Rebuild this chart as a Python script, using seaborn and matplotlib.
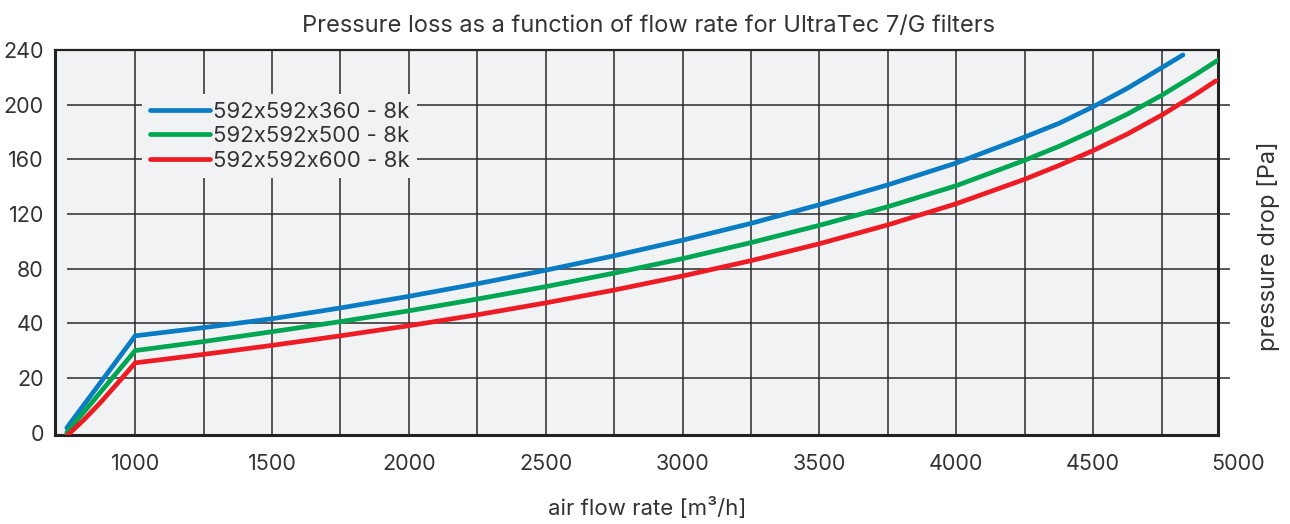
import numpy as np
import pandas as pd
import matplotlib
matplotlib.use("Agg")
import matplotlib.pyplot as plt
import seaborn as sns

# --- data ---
series_names = ["592x592x360 - 8k", "592x592x500 - 8k", "592x592x600 - 8k"]
series_colors = ["#0a7cc4", "#00a651", "#ed1c24"]

flow_360 = [750, 1000, 1250, 1500, 1750, 2000, 2250, 2500, 2750, 3000,
            3250, 3500, 3750, 4000, 4250, 4375, 4500, 4625, 4750, 4828]
drop_360 = [1.7, 35.4, 38.4, 43.3, 51.2, 59.7, 68.9, 78.8, 89.4, 100.8,
            113.1, 126.8, 141.3, 157.3, 176.3, 186.3, 198.5, 212.0, 227.0, 236.4]

flow_500 = [750, 1000, 1250, 1500, 1750, 2000, 2250, 2500, 2750, 3000,
            3250, 3500, 3750, 4000, 4250, 4375, 4500, 4625, 4750, 4875, 4963]
drop_500 = [0.0, 30.0, 33.3, 36.9, 41.2, 49.1, 57.7, 66.8, 76.7, 87.3,
            99.0, 111.7, 125.3, 140.7, 159.3, 169.5, 180.9, 193.1, 206.8, 222.1, 233.5]

flow_600 = [750, 812, 875, 937, 1000, 1250, 1500, 1750, 2000, 2250, 2500,
            2750, 3000, 3250, 3500, 3750, 4000, 4250, 4375, 4500, 4625, 4750,
            4875, 4948]
drop_600 = [-1.2, 4.6, 11.2, 18.2, 25.5, 28.6, 31.9, 35.4, 39.1, 46.2, 54.9,
            64.3, 74.6, 85.8, 98.2, 112.0, 127.5, 145.4, 155.5, 166.4, 178.5, 192.3,
            207.7, 217.4]

y_ticks = [0, 20, 40, 80, 120, 160, 200, 240]
x_ticks = [1000, 1500, 2000, 2500, 3000, 3500, 4000, 4500, 5000]
x_grid = [1000, 1250, 1500, 1750, 2000, 2250, 2500, 2750, 3000, 3250,
          3500, 3750, 4000, 4250, 4500, 4750]

df = pd.concat([
    pd.DataFrame({"flow": flow_360, "drop": drop_360, "filter": series_names[0]}),
    pd.DataFrame({"flow": flow_500, "drop": drop_500, "filter": series_names[1]}),
    pd.DataFrame({"flow": flow_600, "drop": drop_600, "filter": series_names[2]}),
], ignore_index=True)

sns.set_theme(style="white")
plt.rcParams["font.family"] = ["Inter", "DejaVu Sans"]
text_color = "#333333"
bg = "#f1f2f4"


# the y axis is piecewise: 20 Pa steps up to 40, then 40 Pa steps
def fwd(v):
    v = np.asarray(v, dtype=float)
    return np.where(v <= 40, v / 20.0, 2 + (v - 40) / 40.0)


def inv(u):
    u = np.asarray(u, dtype=float)
    return np.where(u <= 2, u * 20.0, 40 + (u - 2) * 40.0)


fig = plt.figure(figsize=(12.9, 5.24), dpi=100)
ax = fig.add_axes([55 / 1290, 89 / 524, 1163 / 1290, 385 / 524])
ax.set_facecolor(bg)
ax.set_yscale("function", functions=(fwd, inv))

sns.lineplot(data=df, x="flow", y="drop", hue="filter", palette=series_colors,
             sort=False, estimator=None, linewidth=3.4, ax=ax, zorder=3)
for ln in ax.get_lines():
    ln.set_solid_capstyle("round")
    ln.set_solid_joinstyle("round")

ax.set_xlim(707, 4956)
ax.set_ylim(-0.9, 240)

# grid lines
ax.vlines(x_grid, -0.9, 240, color="#2a2a2a", linewidth=1.1, zorder=2)
ax.hlines(y_ticks[1:-1], 750, 5000, color="#2a2a2a", linewidth=1.1,
          zorder=2, clip_on=False)

tick_fs = 15.5
ax.set_yticks(y_ticks)
ax.set_yticklabels([str(v) for v in y_ticks])
ax.set_xticks(x_ticks[:-1])
ax.set_xticklabels([str(v) for v in x_ticks[:-1]])
ax.tick_params(axis="both", length=0, labelsize=tick_fs, labelcolor=text_color)
ax.tick_params(axis="x", pad=14)
ax.tick_params(axis="y", pad=8)
# last label sits beyond the right border
ax.annotate(str(x_ticks[-1]), xy=(x_ticks[-1], 0), xycoords=("data", "axes fraction"),
            xytext=(6, -14), textcoords="offset points", ha="center", va="top",
            fontsize=tick_fs, color=text_color, annotation_clip=False)

for side in ["left", "right", "top", "bottom"]:
    ax.spines[side].set_visible(True)
    ax.spines[side].set_color("#222222")
    ax.spines[side].set_linewidth(2.2)
ax.spines["top"].set_linewidth(1.6)

ax.set_title("Pressure loss as a function of flow rate for UltraTec 7/G filters",
             fontsize=17, color=text_color, pad=13)
ax.title.set_x(0.51)
ax.set_xlabel("air flow rate [m\u00b3/h]", fontsize=16, color=text_color, labelpad=16)
ax.xaxis.label.set_x(0.509)
ax.set_ylabel("")
ax.text(1.043, 0.49, "pressure drop [Pa]", transform=ax.transAxes, rotation=90,
        ha="center", va="center", fontsize=17, color=text_color)

leg = ax.legend(loc="upper left", bbox_to_anchor=(0.075, 0.886), frameon=True,
                fontsize=16, handlelength=2.7, handletextpad=0.12,
                labelspacing=0.2, borderpad=0.35, borderaxespad=0)
leg.get_frame().set_facecolor(bg)
leg.get_frame().set_edgecolor("none")
leg.get_frame().set_alpha(1)
leg.set_zorder(5)
for t in leg.get_texts():
    t.set_color(text_color)
for h in leg.get_lines():
    h.set_linewidth(3.4)

fig.savefig("out.png", dpi=100)
